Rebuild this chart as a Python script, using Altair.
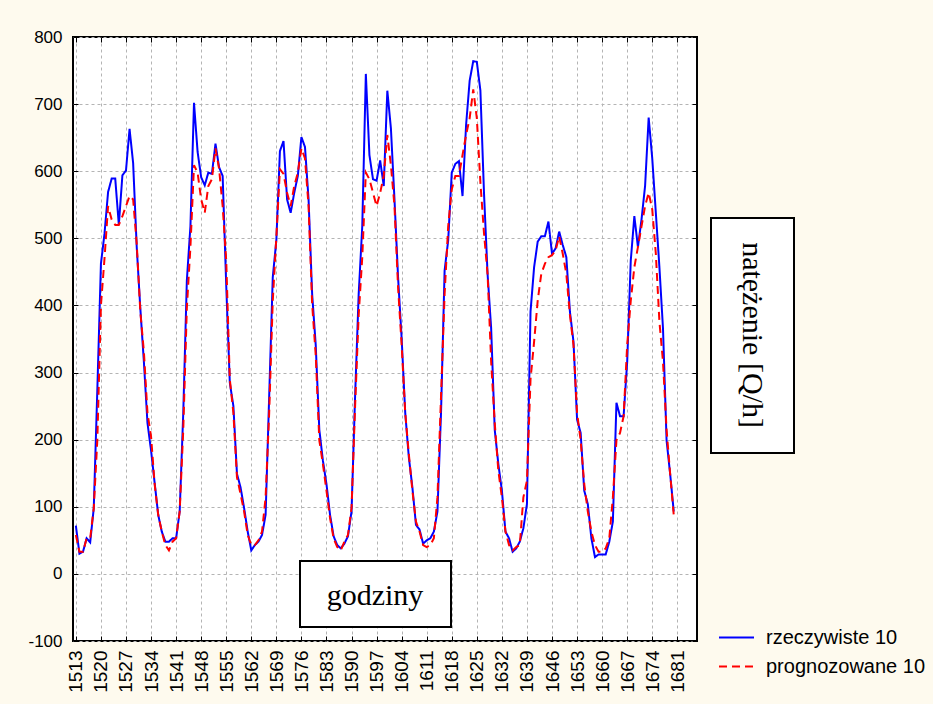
import altair as alt
import pandas as pd

hours = list(range(1513, 1681))

actual = [72, 30, 33, 53, 47, 98, 275, 462, 507, 569, 589, 589, 520, 594, 601, 663, 612, 487, 396, 316,
          225, 184, 136, 88, 63, 48, 48, 53, 53, 93, 240, 437, 518, 702, 629, 591, 579, 598, 596, 641,
          606, 593, 430, 285, 250, 149, 129, 98, 63, 35, 43, 48, 58, 88, 265, 442, 497, 630, 645, 558,
          538, 568, 593, 651, 636, 558, 417, 341, 215, 169, 134, 88, 56, 43, 38, 45, 56, 93, 265, 417,
          518, 745, 624, 588, 586, 616, 578, 720, 664, 558, 442, 351, 240, 174, 129, 73, 66, 45, 50, 53,
          63, 93, 240, 452, 497, 598, 611, 615, 563, 669, 735, 764, 763, 720, 568, 447, 366, 215, 164, 124,
          63, 53, 33, 38, 48, 68, 104, 391, 457, 495, 503, 503, 525, 477, 485, 510, 490, 472, 391, 346,
          230, 210, 124, 104, 53, 25, 29, 29, 29, 48, 78, 255, 235, 235, 316, 467, 533, 487, 528, 578,
          680, 619, 538, 457, 366, 199, 149, 93]

forecast = [58, 33, 33, 53, 53, 98, 200, 400, 470, 548, 528, 520, 520, 533, 548, 563, 558, 492, 391, 331,
            240, 205, 134, 88, 63, 43, 35, 48, 53, 93, 215, 396, 487, 609, 598, 558, 538, 578, 588, 634,
            604, 548, 467, 290, 240, 144, 119, 93, 58, 43, 43, 50, 63, 114, 240, 407, 502, 603, 596, 568,
            548, 578, 598, 634, 619, 548, 402, 326, 199, 164, 124, 83, 53, 40, 35, 48, 58, 98, 250, 386,
            472, 598, 588, 568, 548, 568, 593, 654, 609, 548, 427, 341, 240, 179, 124, 78, 63, 43, 40, 43,
            53, 114, 265, 417, 518, 573, 593, 593, 624, 654, 679, 722, 679, 583, 508, 447, 316, 225, 154, 114,
            63, 43, 35, 40, 43, 114, 139, 290, 346, 407, 447, 462, 472, 475, 482, 503, 477, 447, 386, 341,
            240, 199, 134, 93, 63, 43, 33, 33, 38, 53, 114, 199, 210, 235, 341, 407, 457, 487, 518, 548,
            568, 543, 477, 376, 316, 215, 149, 88]

series_names = ["rzeczywiste 10", "prognozowane 10"]
x_ticks = list(range(1513, 1682, 7))
y_ticks = list(range(-100, 801, 100))
x_title = "godziny"
y_title = "natężenie [Q/h]"

df = pd.DataFrame({
    "hour": hours * 2,
    "value": actual + forecast,
    "series": [series_names[0]] * len(hours) + [series_names[1]] * len(hours),
})

W, H = 624, 604
xscale = alt.Scale(domain=[1512.2, 1686.5], nice=False, zero=False)
yscale = alt.Scale(domain=[-100, 800], nice=False, zero=False)

legend_kw = dict(title=None, orient="none", legendX=645, legendY=582,
                 symbolType="stroke", symbolSize=1225, symbolStrokeWidth=2,
                 labelFont="Liberation Sans", labelFontSize=20, labelColor="black",
                 labelOffset=11, rowPadding=-7, padding=0)
color = alt.Color("series:N", scale=alt.Scale(domain=series_names, range=["#0000ff", "#ff0000"]),
                  legend=alt.Legend(**legend_kw))
dash = alt.StrokeDash("series:N", scale=alt.Scale(domain=series_names, range=[[1, 0], [8, 5]]),
                      legend=alt.Legend(**legend_kw))

grid_kw = dict(grid=True, gridColor="#b4b4b4", gridDash=[3, 3], gridWidth=1)

x_bottom = alt.Axis(orient="bottom", values=x_ticks, labelExpr="'' + datum.value",
                    labelAngle=270, labelAlign="right",
                    labelBaseline="middle", labelFont="Liberation Sans", labelFontSize=19,
                    labelColor="black", labelPadding=9, labelOverlap=False, labelFlush=False,
                    tickSize=5, tickColor="black", tickWidth=1, offset=-5, domain=False,
                    title=None, **grid_kw)
y_left = alt.Axis(orient="left", values=y_ticks, labelExpr="'' + datum.value",
                  labelFont="Liberation Sans", labelFontSize=17,
                  labelColor="black", labelPadding=11, labelOverlap=False, labelFlush=False,
                  tickSize=5, tickColor="black", tickWidth=1, offset=-5, domain=False,
                  title=None, **grid_kw)
x_top = alt.Axis(orient="top", values=x_ticks, labels=False, tickSize=5, tickColor="black",
                 tickWidth=1, offset=-5, domain=False, grid=False, title=None)
y_right = alt.Axis(orient="right", values=y_ticks, labels=False, tickSize=5, tickColor="black",
                   tickWidth=1, offset=-5, domain=False, grid=False, title=None)

base = alt.Chart(df)
blue = base.transform_filter(alt.datum.series == series_names[0]).mark_line(strokeWidth=2).encode(
    x=alt.X("hour:Q", scale=xscale, axis=x_bottom),
    y=alt.Y("value:Q", scale=yscale, axis=y_left),
    color=color, strokeDash=dash,
)
red = base.transform_filter(alt.datum.series == series_names[1]).mark_line(strokeWidth=2).encode(
    x=alt.X("hour:Q", scale=xscale, axis=x_top),
    y=alt.Y("value:Q", scale=yscale, axis=y_right),
    color=color, strokeDash=dash,
)

one = pd.DataFrame({"k": [0]})
box_x = alt.Chart(one).mark_rect(fill="white", stroke="black", strokeWidth=2).encode(
    x=alt.value(227), x2=alt.value(378), y=alt.value(524), y2=alt.value(590))
text_x = alt.Chart(one).mark_text(text=x_title, font="Liberation Serif", fontSize=30,
                                  color="black", align="center", baseline="alphabetic").encode(
    x=alt.value(302), y=alt.value(568))
box_y = alt.Chart(one).mark_rect(fill="white", stroke="black", strokeWidth=2).encode(
    x=alt.value(638), x2=alt.value(721), y=alt.value(181), y2=alt.value(416))
text_y = alt.Chart(one).mark_text(text=y_title, font="Liberation Serif", fontSize=30, angle=90,
                                  color="black", align="center", baseline="middle").encode(
    x=alt.value(679), y=alt.value(298))

chart = alt.layer(blue, red, box_x, text_x, box_y, text_y).resolve_axis(
    x="independent", y="independent"
).properties(
    width=W, height=H,
    autosize=alt.AutoSizeParams(type="none"),
    padding={"left": 73, "top": 37, "right": 236, "bottom": 63},
    background="#fefaee",
).configure_view(fill="white", stroke="black", strokeWidth=2)

chart.save("out.html", embed_options={"renderer": "svg", "actions": False})
